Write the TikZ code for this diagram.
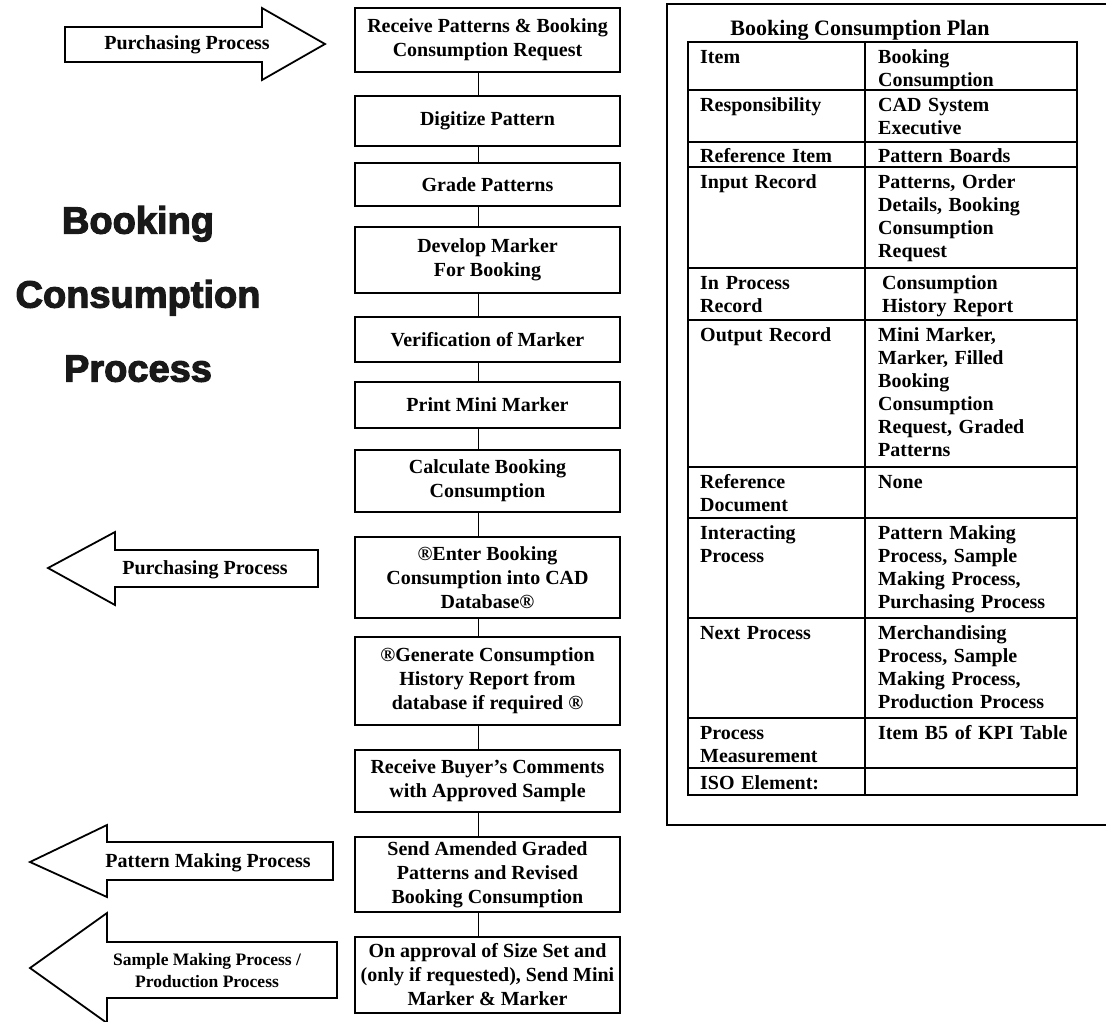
\documentclass[tikz,border=0pt]{standalone}
\usepackage{fontspec}
\setmainfont{Liberation Serif}
\newfontfamily\titlefont{Liberation Sans}[FakeBold=3]
\newcommand\boxfont{\bfseries\fontsize{20}{24}\selectfont}
\newcommand\cellfont{\bfseries\fontsize{20}{23}\selectfont}
\newcommand\bigtitlefont{\titlefont\bfseries\fontsize{38}{74}\selectfont}
\begin{document}
\begin{tikzpicture}[x=1pt,y=-1pt,
  line join=miter,
  flowbox/.style={draw, line width=1.8pt, minimum width=265pt, align=center, font=\boxfont, inner sep=2pt},
  conn/.style={line width=1.8pt},
  bigarrow/.style={draw, line width=1.8pt, fill=white},
  arrowtext/.style={font=\boxfont, align=center, inner sep=0pt},
  cell/.style={font=\cellfont, anchor=base west, text width=190pt, align=left, inner sep=0pt},
  rule/.style={line width=1.6pt}
]
\useasboundingbox (0,0) rectangle (1106,1021);
\fill[white] (0,0) rectangle (1106,1021);

% big title
\node[align=center, inner sep=0pt, text=black!90, font=\bigtitlefont] (maintitle) at (138,294)
  {Booking\\Consumption\\Process};

% flow boxes
\node[flowbox, minimum height=64pt] (b1)  at (487.5,40)    {Receive Patterns \& Booking\\Consumption Request};
\node[flowbox, minimum height=50pt] (b2)  at (487.5,121)   {Digitize Pattern};
\node[flowbox, minimum height=43pt] (b3)  at (487.5,184.5) {Grade Patterns};
\node[flowbox, minimum height=66pt] (b4)  at (487.5,260)   {Develop Marker\\For Booking};
\node[flowbox, minimum height=45pt] (b5)  at (487.5,339.5) {Verification of Marker};
\node[flowbox, minimum height=46pt] (b6)  at (487.5,405)   {Print Mini Marker};
\node[flowbox, minimum height=62pt] (b7)  at (487.5,481)   {Calculate Booking\\Consumption};
\node[flowbox, minimum height=81pt] (b8)  at (487.5,577.5) {®Enter Booking\\Consumption into CAD\\Database®};
\node[flowbox, minimum height=88pt] (b9)  at (487.5,681)   {®Generate Consumption\\History Report from\\database if required ®};
\node[flowbox, minimum height=62pt] (b10) at (487.5,781)   {Receive Buyer's Comments\\with Approved Sample};
\node[flowbox, minimum height=75pt] (b11) at (487.5,874.5) {Send Amended Graded\\Patterns and Revised\\Booking Consumption};
\node[flowbox, minimum height=76pt] (b12) at (487.5,975)   {On approval of Size Set and\\(only if requested), Send Mini\\Marker \& Marker};

\foreach \a/\b in {b1/b2,b2/b3,b3/b4,b4/b5,b5/b6,b6/b7,b7/b8,b8/b9,b9/b10,b10/b11,b11/b12}
  \draw[conn] ([xshift=-9pt]\a.south) -- ([xshift=-9pt]\b.north);

% side arrows
\draw[bigarrow] (65,27) -- (262,27) -- (262,8) -- (325,44) -- (262,80) -- (262,62) -- (65,62) -- cycle;
\node[arrowtext] (a1) at (187,45) {Purchasing Process};

\draw[bigarrow] (318,550) -- (115,550) -- (115,532) -- (48,568) -- (115,605) -- (115,587) -- (318,587) -- cycle;
\node[arrowtext] (a2) at (205,570) {Purchasing Process};

\draw[bigarrow] (333,842) -- (107,842) -- (107,825) -- (30,862) -- (107,897) -- (107,880) -- (333,880) -- cycle;
\node[arrowtext] (a3) at (208,863) {Pattern Making Process};

\draw[bigarrow] (337,942) -- (107,942) -- (107,913) -- (30,968) -- (107,1023) -- (107,998) -- (337,998) -- cycle;
\node[arrowtext, font=\bfseries\fontsize{17.5}{22}\selectfont] (a4) at (207,971) {Sample Making Process /\\Production Process};

% table frame
\draw[rule] (1106,4) -- (667,4) -- (667,825) -- (1106,825);
\node[font=\bfseries\fontsize{22}{24}\selectfont, inner sep=0pt] (ttitle) at (860,30) {Booking Consumption Plan};

% table grid
\draw[rule] (688,42) rectangle (1077,795);
\draw[rule] (865,42) -- (865,795);
\foreach \yy in {90,142,167,268,320,467,518,618,718,768}
  \draw[rule] (688,\yy) -- (1077,\yy);

% table cells
\node[cell] (l1) at (700,63) {Item};
\node[cell] (r1) at (878,63) {Booking\\Consumption};
\node[cell] (l2) at (700,111) {Responsibility};
\node[cell] (r2) at (878,111) {CAD System\\Executive};
\node[cell] (l3) at (700,162) {Reference Item};
\node[cell] (r3) at (878,162) {Pattern Boards};
\node[cell] (l4) at (700,188) {Input Record};
\node[cell] (r4) at (878,188) {Patterns, Order\\Details, Booking\\Consumption\\Request};
\node[cell] (l5) at (700,289) {In Process\\Record};
\node[cell] (r5) at (882,289) {Consumption\\History Report};
\node[cell] (l6) at (700,341) {Output Record};
\node[cell] (r6) at (878,341) {Mini Marker,\\Marker, Filled\\Booking\\Consumption\\Request, Graded\\Patterns};
\node[cell] (l7) at (700,488) {Reference\\Document};
\node[cell] (r7) at (878,488) {None};
\node[cell] (l8) at (700,539) {Interacting\\Process};
\node[cell] (r8) at (878,539) {Pattern Making\\Process, Sample\\Making Process,\\Purchasing Process};
\node[cell] (l9) at (700,639) {Next Process};
\node[cell] (r9) at (878,639) {Merchandising\\Process, Sample\\Making Process,\\Production Process};
\node[cell] (l10) at (700,739) {Process\\Measurement};
\node[cell] (r10) at (878,739) {Item B5 of KPI Table};
\node[cell] (l11) at (700,789) {ISO Element:};
\end{tikzpicture}
\end{document}
